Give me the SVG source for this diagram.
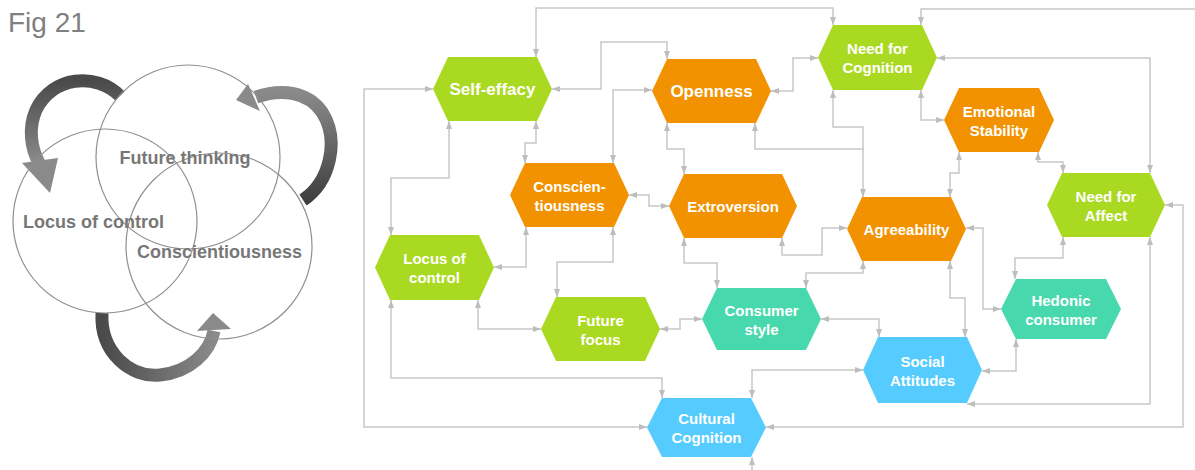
<svg xmlns="http://www.w3.org/2000/svg" width="1195" height="470" viewBox="0 0 1195 470">
<defs>
<style>
.c{fill:none;stroke:#c8c8c8;stroke-width:1.5;marker-start:url(#a);marker-end:url(#a)}
.ce{fill:none;stroke:#c8c8c8;stroke-width:1.5;marker-end:url(#a)}
.cs{fill:none;stroke:#c8c8c8;stroke-width:1.5;marker-start:url(#a)}
.g{fill:#aad921}
.o{fill:#f29200}
.t{fill:#48d8ad}
.b{fill:#55cbfe}
.n{font-family:"Liberation Sans",Arial,sans-serif;font-weight:bold;font-size:15px;fill:#fff;text-anchor:middle}
.big{font-size:17px}
.ring{fill:none;stroke:#8f8f8f;stroke-width:1.2}
.lt{font-family:"Liberation Sans",Arial,sans-serif;font-weight:bold;font-size:18px;fill:#777}
</style>
<marker id="a" viewBox="0 0 8 6" refX="8" refY="3" markerWidth="8" markerHeight="6" orient="auto-start-reverse" markerUnits="userSpaceOnUse"><path d="M0,0 L8,3 L0,6 z" fill="#bdbdbd"/></marker>
<linearGradient id="gTL" x1="0" y1="0" x2="0" y2="1"><stop offset="0" stop-color="#4a4a4a"/><stop offset="1" stop-color="#8a8a8a"/></linearGradient>
<linearGradient id="gTR" x1="0" y1="1" x2="0" y2="0"><stop offset="0" stop-color="#3f3f3f"/><stop offset="1" stop-color="#8a8a8a"/></linearGradient>
<linearGradient id="gB" x1="0" y1="0" x2="1" y2="0"><stop offset="0" stop-color="#4a4a4a"/><stop offset="1" stop-color="#8a8a8a"/></linearGradient>
</defs>
<rect width="1195" height="470" fill="#fff"/>
<text x="8" y="32" font-family="Liberation Sans,Arial,sans-serif" font-size="28" fill="#808080">Fig 21</text>
<g id="left-figure">
<path d="M120,96 C96,72 52,76 36,110 C28,128 31,148 39,163" fill="none" stroke="url(#gTL)" stroke-width="13"/>
<polygon points="22,163 58,158 50,193" fill="#8a8a8a"/>
<path d="M303,200 C330,182 340,140 322,112 C308,92 282,88 256,97" fill="none" stroke="url(#gTR)" stroke-width="13"/>
<polygon points="236,100 248,84 260,111" fill="#8a8a8a"/>
<path d="M102,313 C100,352 130,378 160,375 C190,372 210,352 214,331" fill="none" stroke="url(#gB)" stroke-width="13"/>
<polygon points="197,331 231,329 213,313" fill="#8a8a8a"/>
<circle class="ring" cx="188" cy="157" r="92"/>
<circle class="ring" cx="105" cy="221" r="92"/>
<circle class="ring" cx="219" cy="246" r="93"/>
<text class="lt" x="185" y="164" text-anchor="middle">Future thinking</text>
<text class="lt" x="23" y="228">Locus of control</text>
<text class="lt" x="137" y="258">Conscientiousness</text>
</g>
<g id="connectors">
<path class="c" d="M536,57 V8 H833 V25"/>
<path class="c" d="M552,89 H601 V42 H667 V59"/>
<path class="c" d="M652,90 H613 V163"/>
<path class="c" d="M536,121 V143 H525 V163"/>
<path class="c" d="M449,121 V178 H391 V235"/>
<path class="c" d="M433,89 H364 V427 H647"/>
<path class="c" d="M391,300 V378 H662 V398"/>
<path class="c" d="M494,267 H526 V227"/>
<path class="c" d="M478,300 V329 H541"/>
<path class="c" d="M613,227 V262 H557 V297"/>
<path class="c" d="M629,195 H649 V206 H669"/>
<path class="c" d="M667,123 V149 H684 V174"/>
<path class="c" d="M771,91 H793 V58 H818"/>
<path class="c" d="M755,123 V149 H863 V197"/>
<path class="cs" d="M833,90 V127 H863 V150"/>
<path class="c" d="M921,90 V120 H944"/>
<path class="c" d="M937,58 H1150 V173"/>
<path class="cs" d="M921,25 V9 H1195"/>
<path class="c" d="M959,152 V173 H950 V197"/>
<path class="c" d="M1038,152 V162 H1063 V173"/>
<path class="c" d="M1165,205 H1183 V427 H766"/>
<path class="c" d="M1150,237 V404 H967"/>
<path class="c" d="M1063,237 V258 H1015 V279"/>
<path class="c" d="M966,228 H983 V309 H1001"/>
<path class="c" d="M950,261 V298 H965 V337"/>
<path class="c" d="M1016,339 V371 H982"/>
<path class="c" d="M847,228 H822 V255 H782 V238"/>
<path class="c" d="M863,261 V273 H806 V288"/>
<path class="c" d="M684,238 V263 H717 V288"/>
<path class="c" d="M702,319 H680 V329 H660"/>
<path class="c" d="M821,319 H879 V337"/>
<path class="c" d="M863,370 H752 V398"/>
<path class="ce" d="M752,470 V457"/>
</g>
<g id="self-effacy"><polygon class="g" points="433,89 448,57 537,57 552,89 537,121 448,121"/><text class="n big" x="492.5" y="95">Self-effacy</text></g>
<g id="openness"><polygon class="o" points="652,91 667,59 756,59 771,91 756,123 667,123"/><text class="n big" x="711.5" y="97">Openness</text></g>
<g id="need-for-cognition"><polygon class="g" points="818,57.5 833,25 922,25 937,57.5 922,90 833,90"/><text class="n" x="877.5" y="54">Need for</text><text class="n" x="877.5" y="73">Cognition</text></g>
<g id="emotional-stability"><polygon class="o" points="944,120 959,88 1039,88 1054,120 1039,152 959,152"/><text class="n" x="999" y="117">Emotional</text><text class="n" x="999" y="136">Stability</text></g>
<g id="need-for-affect"><polygon class="g" points="1047,205 1062,173 1150,173 1165,205 1150,237 1062,237"/><text class="n" x="1106" y="202">Need for</text><text class="n" x="1106" y="221">Affect</text></g>
<g id="conscientiousness"><polygon class="o" points="510,195 525,163 614,163 629,195 614,227 525,227"/><text class="n" x="569.5" y="192">Conscien-</text><text class="n" x="569.5" y="211">tiousness</text></g>
<g id="extroversion"><polygon class="o" points="669,206 684,174 782,174 797,206 782,238 684,238"/><text class="n" x="733" y="211.5">Extroversion</text></g>
<g id="agreeability"><polygon class="o" points="847,229 862,197 951,197 966,229 951,261 862,261"/><text class="n" x="906.5" y="234.5">Agreeability</text></g>
<g id="locus-of-control"><polygon class="g" points="375,267.5 390,235 479,235 494,267.5 479,300 390,300"/><text class="n" x="434.5" y="264">Locus of</text><text class="n" x="434.5" y="283">control</text></g>
<g id="future-focus"><polygon class="g" points="541,329 556,297 645,297 660,329 645,361 556,361"/><text class="n" x="600.5" y="326">Future</text><text class="n" x="600.5" y="345">focus</text></g>
<g id="consumer-style"><polygon class="t" points="702,319 717,288 806,288 821,319 806,350 717,350"/><text class="n" x="761.5" y="316">Consumer</text><text class="n" x="761.5" y="335">style</text></g>
<g id="hedonic-consumer"><polygon class="t" points="1001,309 1016,279 1106,279 1121,309 1106,339 1016,339"/><text class="n" x="1061" y="306">Hedonic</text><text class="n" x="1061" y="325">consumer</text></g>
<g id="social-attitudes"><polygon class="b" points="863,370 878,337 967,337 982,370 967,403 878,403"/><text class="n" x="922.5" y="367">Social</text><text class="n" x="922.5" y="386">Attitudes</text></g>
<g id="cultural-cognition"><polygon class="b" points="647,427.5 662,398 751,398 766,427.5 751,457 662,457"/><text class="n" x="706.5" y="424">Cultural</text><text class="n" x="706.5" y="443">Cognition</text></g>
</svg>
